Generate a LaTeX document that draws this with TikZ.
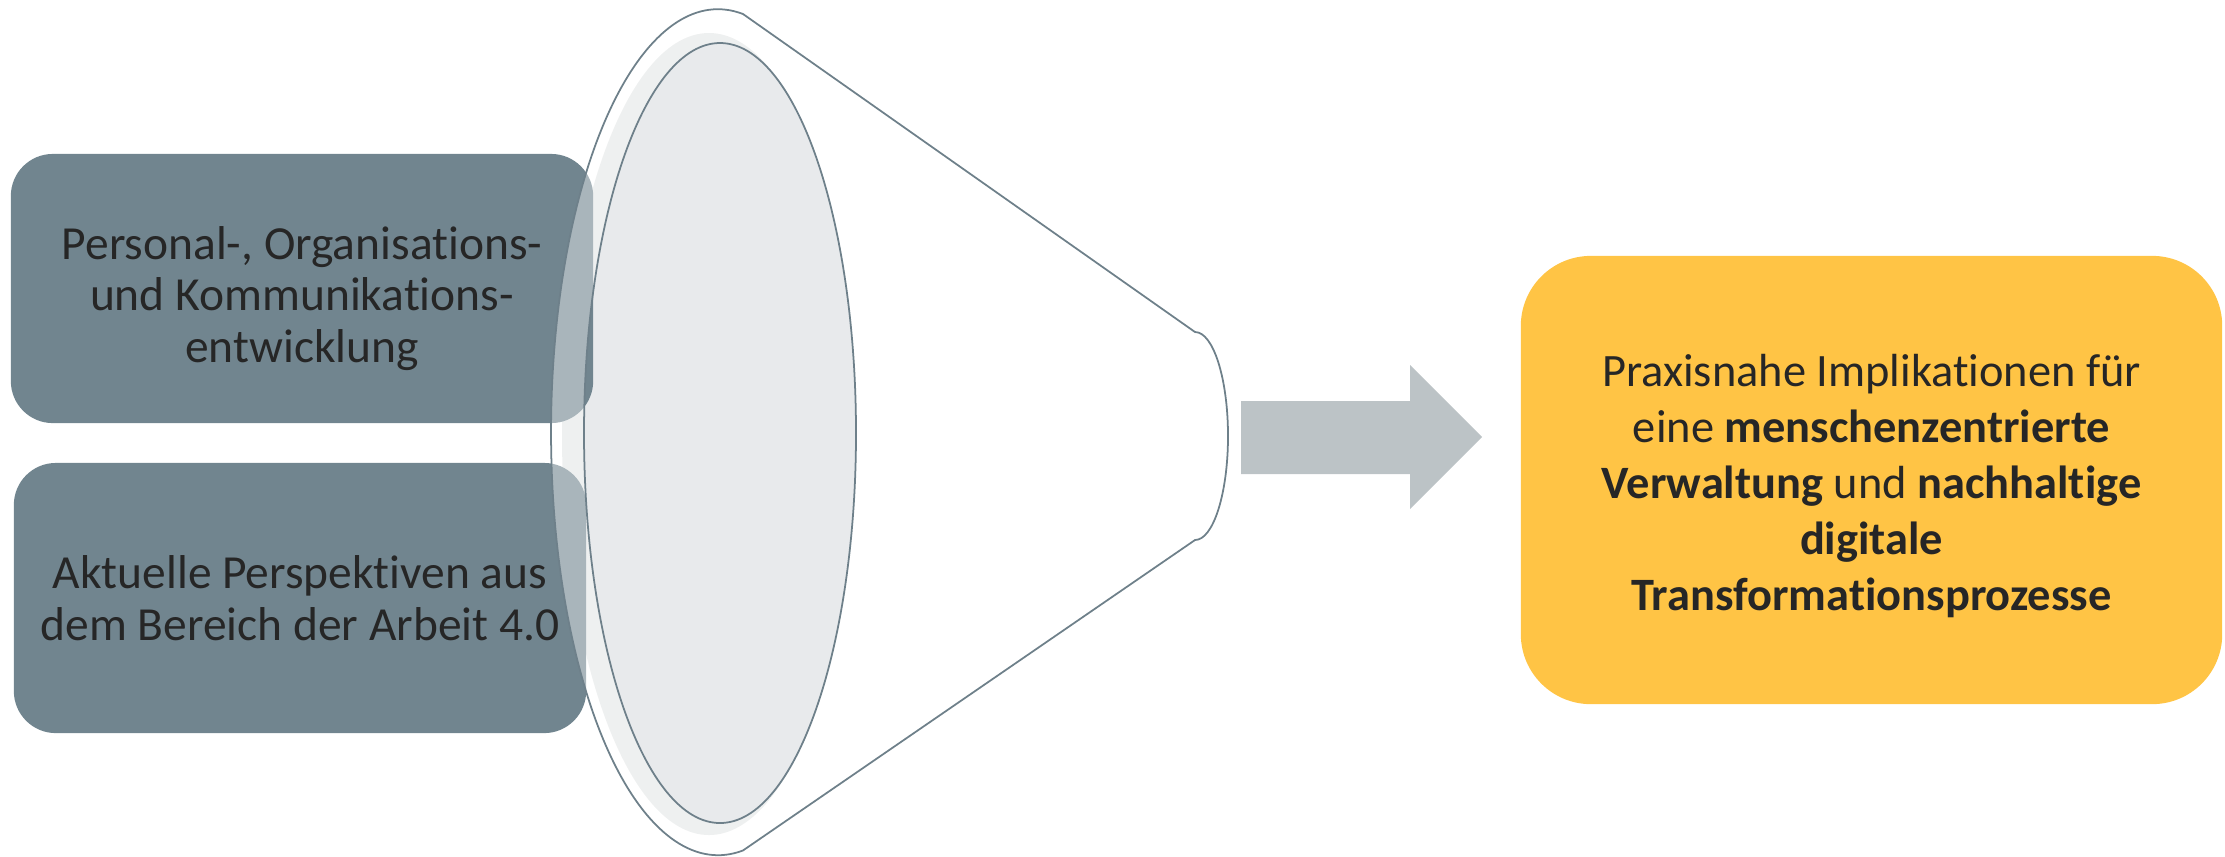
\documentclass[tikz,border=0pt]{standalone}
\usepackage{fontspec}
\setmainfont{Carlito}[Ligatures={NoCommon}]
\definecolor{boxgray}{HTML}{71858F}
\definecolor{bandgray}{HTML}{E4E7E7}
\definecolor{innergray}{HTML}{E8EAEC}
\definecolor{outline}{HTML}{6E808A}
\definecolor{arrowgray}{HTML}{BCC3C6}
\definecolor{gold}{HTML}{FFC445}
\definecolor{txt}{HTML}{262626}
\tikzset{
  leftbox/.style={fill=boxgray, rounded corners=0.42cm, inner sep=0pt},
  lefttext/.style={inner sep=0pt, align=center, text=txt,
    font=\fontsize{13.5}{14.7}\selectfont},
  goalbox/.style={fill=gold, rounded corners=0.7cm, inner sep=0pt},
  goaltext/.style={inner sep=0pt, align=center, text=txt,
    font=\fontsize{13.2}{15.9}\selectfont},
  funnelline/.style={draw=outline, line width=0.5pt},
}
\begin{document}
\begin{tikzpicture}[x=0.01cm, y=0.01cm]
\useasboundingbox (0,0) rectangle (2225,-856);
% back of the funnel
\fill[bandgray] (709,-434) ellipse [x radius=147, y radius=401];
\fill[innergray] (720,-433) ellipse [x radius=136, y radius=390];
% input boxes
\node[leftbox, minimum width=5.82cm, minimum height=2.69cm] (b1) at (302,-288.5) {};
\node[lefttext] (t1) at ([yshift=-0.1cm]b1.center)
  {Personal-, Organisations-\\und Kommunikations-\\entwicklung};
\node[leftbox, minimum width=5.72cm, minimum height=2.70cm] (b2) at (300,-598) {};
\node[lefttext] (t2) at (b2.center)
  {Aktuelle Perspektiven aus\\dem Bereich der Arbeit 4.0};
% front ring of the funnel (semi-transparent)
\fill[white, fill opacity=0.4, even odd rule]
  (1195,-332) -- (743,-14)
  arc[start angle=81.4, end angle=278.6, x radius=167, y radius=423]
  -- (1195,-540)
  arc[start angle=-90, end angle=90, x radius=33, y radius=104] -- cycle
  (720,-433) ellipse [x radius=136, y radius=390];
% outlines
\draw[funnelline]
  (1195,-332) -- (743,-14)
  arc[start angle=81.4, end angle=278.6, x radius=167, y radius=423]
  -- (1195,-540)
  arc[start angle=-90, end angle=90, x radius=33, y radius=104] -- cycle;
\draw[funnelline] (720,-433) ellipse [x radius=136, y radius=390];
% block arrow
\fill[arrowgray] (1241,-401) -- (1410,-401) -- (1410,-365) -- (1482,-437)
  -- (1410,-509) -- (1410,-474) -- (1241,-474) -- cycle;
% result box
\node[goalbox, minimum width=7.01cm, minimum height=4.48cm] (g) at (1871.5,-480) {};
\node[goaltext] (gt) at ([yshift=-0.06cm]g.center)
  {Praxisnahe Implikationen für\\eine \textbf{menschenzentrierte}\\\textbf{Verwaltung} und \textbf{nachhaltige}\\\textbf{digitale}\\\textbf{Transformationsprozesse}};
\end{tikzpicture}
\end{document}
